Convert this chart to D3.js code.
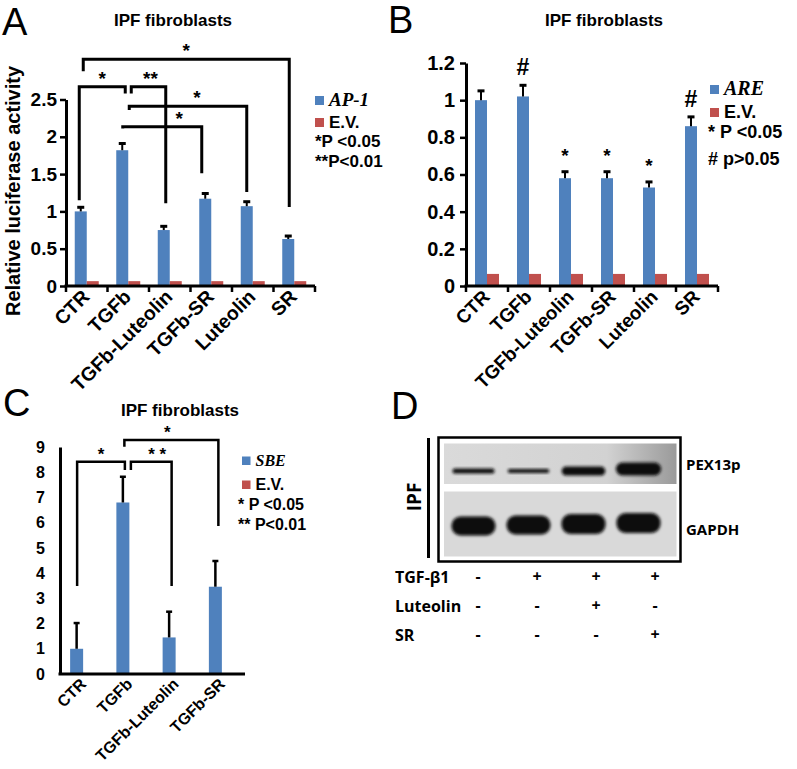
<!DOCTYPE html>
<html>
<head>
<meta charset="utf-8">
<script src="https://cdn.jsdelivr.net/npm/d3@7"></script>
<style>
body { margin: 0; background: #fff; }
svg { display: block; }
text { font-family: "Liberation Sans", Arial, sans-serif; font-weight: bold; fill: #000; }
</style>
</head>
<body>
<svg id="fig" width="797" height="769"></svg>
<script>
// ---- data ----
var groupsAB = ["CTR", "TGFb", "TGFb-Luteolin", "TGFb-SR", "Luteolin", "SR"];

var ap1Values = [1.0, 1.82, 0.75, 1.17, 1.07, 0.63];
var ap1Err    = [0.055, 0.09, 0.05, 0.07, 0.06, 0.04];
var ap1EV     = [0.065, 0.065, 0.065, 0.065, 0.065, 0.065];
var aTicks    = [0, 0.5, 1, 1.5, 2, 2.5];

var areValues = [1.0, 1.02, 0.58, 0.58, 0.53, 0.86];
var areErr    = [0.05, 0.06, 0.035, 0.035, 0.03, 0.05];
var areEV     = [0.065, 0.065, 0.065, 0.065, 0.065, 0.065];
var areMarks  = ["", "#", "*", "*", "*", "#"];
var bTicks    = [0, 0.2, 0.4, 0.6, 0.8, 1, 1.2];

var groupsC   = ["CTR", "TGFb", "TGFb-Luteolin", "TGFb-SR"];
var sbeValues = [1.0, 6.8, 1.45, 3.46];
var sbeErr    = [1.02, 1.02, 1.02, 1.02];
var sbeEV     = [0, 0, 0, 0];
var cTicks    = [0, 1, 2, 3, 4, 5, 6, 7, 8, 9];

var lanes     = ["1", "2", "3", "4"];
var pexBand   = [5, 4, 9, 13];     // band thickness (intensity)
var gapdhBand = [19, 19, 20, 20];
var treatRows = ["TGF-β1", "Luteolin", "SR"];
var tgfSigns  = ["-", "+", "+", "+"];
var lutSigns  = ["-", "-", "+", "-"];
var srSigns   = ["-", "-", "-", "+"];

var blue = "#4f81bd", red = "#c0504d";
var svg = d3.select("#fig");
var serif = "'Liberation Serif', 'Times New Roman', serif";

// ---- generic bar panel ----
function drawBars(cfg) {
    let g = svg.append("g");
    let x = d3.scaleBand().domain(cfg.groups).range([cfg.left, cfg.right]);
    let y = d3.scaleLinear().domain([0, cfg.max]).range([cfg.base, cfg.top]);
    let c = function (i) { return x(cfg.groups[i]) + x.bandwidth() / 2; };

    // bars
    g.selectAll("rect.v").data(cfg.values).enter().append("rect")
        .attr("x", (d, i) => c(i) - cfg.bw)
        .attr("width", cfg.bw)
        .attr("y", d => y(d))
        .attr("height", d => cfg.base - y(d))
        .attr("fill", blue);
    g.selectAll("rect.e").data(cfg.ev).enter().append("rect")
        .attr("x", (d, i) => c(i))
        .attr("width", cfg.bw)
        .attr("y", d => y(d))
        .attr("height", d => cfg.base - y(d))
        .attr("fill", red);

    // error bars (plus only)
    cfg.values.forEach(function (v, i) {
        let ex = c(i) - cfg.bw / 2;
        g.append("line").attr("x1", ex).attr("x2", ex)
            .attr("y1", y(v)).attr("y2", y(v + cfg.err[i]))
            .attr("stroke", "#000").attr("stroke-width", cfg.errW);
        g.append("line").attr("x1", ex - cfg.cap).attr("x2", ex + cfg.cap)
            .attr("y1", y(v + cfg.err[i])).attr("y2", y(v + cfg.err[i]))
            .attr("stroke", "#000").attr("stroke-width", cfg.capW);
    });

    // y axis
    let yAxis = d3.axisLeft(y).tickValues(cfg.ticks).tickFormat(d => String(d))
        .tickSize(cfg.tick).tickSizeOuter(0).tickPadding(cfg.pad);
    let yg = g.append("g").attr("transform", "translate(" + cfg.left + ",0)").call(yAxis)
        .attr("font-size", cfg.tickFont);
    yg.select(".domain").attr("stroke-width", 3).attr("stroke", "#000");
    yg.selectAll(".tick line").attr("stroke-width", 2.5).attr("stroke", "#000");

    // x axis line and boundary ticks
    g.append("line").attr("x1", cfg.left - 1.5).attr("x2", cfg.right)
        .attr("y1", cfg.base).attr("y2", cfg.base)
        .attr("stroke", "#000").attr("stroke-width", 3);
    if (cfg.xTicks) {
        let bounds = cfg.groups.map(d => x(d)).concat([cfg.right]);
        g.selectAll("line.xt").data(bounds).enter().append("line")
            .attr("x1", d => d).attr("x2", d => d)
            .attr("y1", cfg.base).attr("y2", cfg.base + 6)
            .attr("stroke", "#000").attr("stroke-width", 2.5);
    }

    // category labels
    g.selectAll("text.xl").data(cfg.groups).enter().append("text")
        .attr("transform", (d, i) => "translate(" + (c(i) + cfg.lx) + "," + (cfg.base + cfg.ly) + ") rotate(-45)")
        .attr("text-anchor", "end")
        .attr("font-size", cfg.labelFont)
        .text(d => d);

    return { g: g, x: x, y: y, c: c };
}

function bracket(p, a, b, cfg) {
    // a, b : {i, dx, end}; level in data units
    let x1 = p.c(a.i) + a.dx, x2 = p.c(b.i) + b.dx, yl = p.y(cfg.level);
    p.g.append("path")
        .attr("d", "M" + x1 + "," + p.y(a.end) + "V" + yl + "H" + x2 + "V" + p.y(b.end))
        .attr("fill", "none").attr("stroke", "#000").attr("stroke-width", cfg.w);
    p.g.append("text")
        .attr("x", (x1 + x2) / 2 + (cfg.ldx || 0)).attr("y", yl - 2)
        .attr("text-anchor", "middle").attr("font-size", cfg.fs)
        .text(cfg.label);
}

function legend(x, y, items) {
    items.forEach(function (it) {
        if (it.color) {
            svg.append("rect").attr("x", x).attr("y", it.y - it.sq - 1)
                .attr("width", it.sq).attr("height", it.sq).attr("fill", it.color);
        }
        let t = svg.append("text").attr("x", x + (it.color ? it.sq + 5 : 0)).attr("y", it.y)
            .attr("font-size", it.fs).text(it.text);
        if (it.serif) t.style("font-family", serif).style("font-style", "italic");
    });
}

function panelLetter(s, x, y) {
    svg.append("text").attr("x", x).attr("y", y).attr("font-size", 38)
        .style("font-weight", "normal").text(s);
}

function title(x, y) {
    svg.append("text").attr("x", x).attr("y", y).attr("text-anchor", "middle")
        .attr("font-size", 17).text("IPF fibroblasts");
}

// ---- panel A ----
panelLetter("A", 2, 35);
title(173, 26);
let pa = drawBars({
    groups: groupsAB, values: ap1Values, err: ap1Err, ev: ap1EV,
    left: 66, right: 315, base: 286, top: 99.5, max: 2.5, ticks: aTicks,
    bw: 12, errW: 2, capW: 3, cap: 3.5, tick: 6, pad: 3, tickFont: 19,
    xTicks: true, lx: 4, ly: 12, labelFont: 19.5
});
svg.append("text").attr("transform", "translate(20,191) rotate(-90)")
    .attr("text-anchor", "middle").attr("font-size", 20).text("Relative luciferase activity");
bracket(pa, { i: 0, dx: -3.5, end: 2.88 }, { i: 5, dx: -5, end: 1.06 }, { level: 3.04, label: "*", fs: 19, w: 3 });
bracket(pa, { i: 0, dx: -7.5, end: 1.15 }, { i: 1, dx: -3, end: 2.58 }, { level: 2.67, label: "*", fs: 19, w: 3 });
bracket(pa, { i: 1, dx: 3, end: 2.58 }, { i: 2, dx: -4, end: 1.11 }, { level: 2.67, label: "**", fs: 19, w: 3, ldx: 2 });
bracket(pa, { i: 1, dx: 1, end: 2.36 }, { i: 4, dx: -6, end: 1.26 }, { level: 2.41, label: "*", fs: 19, w: 3, ldx: 9 });
bracket(pa, { i: 1, dx: -5.5, end: 2.11 }, { i: 3, dx: -9.5, end: 1.51 }, { level: 2.135, label: "*", fs: 19, w: 3, ldx: 17 });
legend(315, 0, [
    { color: blue, sq: 9, y: 106, fs: 19, text: "AP-1", serif: true },
    { color: red, sq: 9, y: 128, fs: 17, text: "E.V." },
    { y: 147, fs: 17, text: "*P <0.05" },
    { y: 167, fs: 17, text: "**P<0.01" }
]);

// ---- panel B ----
panelLetter("B", 388, 33);
title(604, 26);
let pb = drawBars({
    groups: groupsAB, values: areValues, err: areErr, ev: areEV,
    left: 466, right: 718, base: 286, top: 63, max: 1.2, ticks: bTicks,
    bw: 12, errW: 2, capW: 3, cap: 3.5, tick: 6, pad: 5, tickFont: 20,
    xTicks: true, lx: 4, ly: 12, labelFont: 19
});
pb.g.selectAll("text.mk").data(areMarks).enter().append("text")
    .attr("x", (d, i) => pb.c(i) - 6)
    .attr("y", (d, i) => pb.y(areValues[i] + areErr[i]) - 10)
    .attr("text-anchor", "middle")
    .attr("font-size", d => d === "#" ? 23 : 19)
    .text(d => d);
legend(710, 0, [
    { color: blue, sq: 9, y: 95, fs: 20, text: "ARE", serif: true },
    { color: red, sq: 9, y: 118, fs: 18, text: "E.V." }
]);
legend(708, 0, [
    { y: 138, fs: 18, text: "* P <0.05" },
    { y: 165, fs: 18, text: "# p>0.05" }
]);

// ---- panel C ----
panelLetter("C", 3, 416);
title(180, 416);
let pc = drawBars({
    groups: groupsC, values: sbeValues, err: sbeErr, ev: sbeEV,
    left: 60, right: 245, base: 674, top: 447, max: 9, ticks: cTicks,
    bw: 13, errW: 2.5, capW: 2.5, cap: 3, tick: 0, pad: 15, tickFont: 16,
    xTicks: false, lx: 4, ly: 11, labelFont: 16
});
bracket(pc, { i: 0, dx: -6, end: 3.49 }, { i: 1, dx: -4.5, end: 8.09 }, { level: 8.42, label: "*", fs: 17, w: 2.5 });
bracket(pc, { i: 1, dx: 1.5, end: 8.09 }, { i: 2, dx: -4, end: 3.49 }, { level: 8.42, label: "* *", fs: 17, w: 2.5, ldx: 6 });
bracket(pc, { i: 1, dx: -5, end: 9.01 }, { i: 3, dx: -3.5, end: 5.87 }, { level: 9.28, label: "*", fs: 17, w: 2.5, ldx: -4 });
legend(242, 0, [
    { color: blue, sq: 8.5, y: 466, fs: 16, text: "SBE", serif: true },
    { color: red, sq: 8.5, y: 490, fs: 16, text: "E.V." }
]);
legend(238, 0, [
    { y: 510, fs: 16, text: "* P <0.05" },
    { y: 530, fs: 16, text: "** P<0.01" }
]);

// ---- panel D : western blot ----
panelLetter("D", 391, 419);
let defs = svg.append("defs");
defs.append("filter").attr("id", "blur").attr("x", "-20%").attr("y", "-50%")
    .attr("width", "140%").attr("height", "200%")
    .append("feGaussianBlur").attr("stdDeviation", 1.6);
let grad = defs.append("linearGradient").attr("id", "shade").attr("x1", 0).attr("x2", 1).attr("y1", 0).attr("y2", 0);
grad.append("stop").attr("offset", "0%").attr("stop-color", "#dadada");
grad.append("stop").attr("offset", "70%").attr("stop-color", "#d2d2d2");
grad.append("stop").attr("offset", "100%").attr("stop-color", "#9a9a9a");

let dg = svg.append("g").style("font-family", "'Open Sans', sans-serif");
dg.append("line").attr("x1", 428.5).attr("x2", 428.5).attr("y1", 438).attr("y2", 558)
    .attr("stroke", "#000").attr("stroke-width", 3);
dg.append("text").attr("transform", "translate(421,497) rotate(-90)")
    .attr("text-anchor", "middle").attr("font-size", 19)
    .style("font-family", "'Open Sans', sans-serif").text("IPF");
dg.append("rect").attr("x", 438.5).attr("y", 437.5).attr("width", 242).attr("height", 124)
    .attr("fill", "#fff").attr("stroke", "#000").attr("stroke-width", 2.5);
dg.append("rect").attr("x", 444).attr("y", 443.5).attr("width", 232.5).attr("height", 40.5)
    .attr("fill", "url(#shade)");
dg.append("rect").attr("x", 444).attr("y", 491.5).attr("width", 232.5).attr("height", 65)
    .attr("fill", "#d9d9d9");

let lx = d3.scaleBand().domain(lanes).range([446, 666]);
dg.selectAll("rect.pex").data(pexBand).enter().append("rect")
    .attr("x", (d, i) => lx(lanes[i]) + lx.bandwidth() / 2 - 20 - d * 0.2)
    .attr("width", d => 40 + d * 0.4)
    .attr("y", d => 471 - d / 2 - (d > 10 ? 2 : 0))
    .attr("height", d => d)
    .attr("rx", d => d / 2)
    .attr("fill", "#111").attr("filter", "url(#blur)");
dg.selectAll("rect.gap").data(gapdhBand).enter().append("rect")
    .attr("x", (d, i) => lx(lanes[i]) + lx.bandwidth() / 2 - 22)
    .attr("width", 44)
    .attr("y", (d, i) => 526 - d / 2 - i)
    .attr("height", d => d)
    .attr("rx", 9)
    .attr("fill", "#0a0a0a").attr("filter", "url(#blur)");
dg.append("text").attr("x", 686).attr("y", 470).attr("font-size", 15)
    .style("font-family", "'Open Sans', sans-serif").text("PEX13p");
dg.append("text").attr("x", 686).attr("y", 535).attr("font-size", 15)
    .style("font-family", "'Open Sans', sans-serif").text("GAPDH");

// treatment table
let sx = d3.scalePoint().domain(lanes).range([478, 655]);
let rowY = d3.scalePoint().domain(treatRows).range([583, 641]);
[tgfSigns, lutSigns, srSigns].forEach(function (signs, r) {
    dg.append("text").attr("x", 395).attr("y", rowY(treatRows[r])).attr("font-size", 16)
        .style("font-family", "'Open Sans', sans-serif").text(treatRows[r]);
    dg.selectAll("text.s" + r).data(signs).enter().append("text")
        .attr("x", (d, i) => sx(lanes[i]))
        .attr("y", rowY(treatRows[r]) - 1)
        .attr("text-anchor", "middle").attr("font-size", 16)
        .style("font-family", "'Open Sans', sans-serif")
        .text(d => d);
});
</script>
</body>
</html>
